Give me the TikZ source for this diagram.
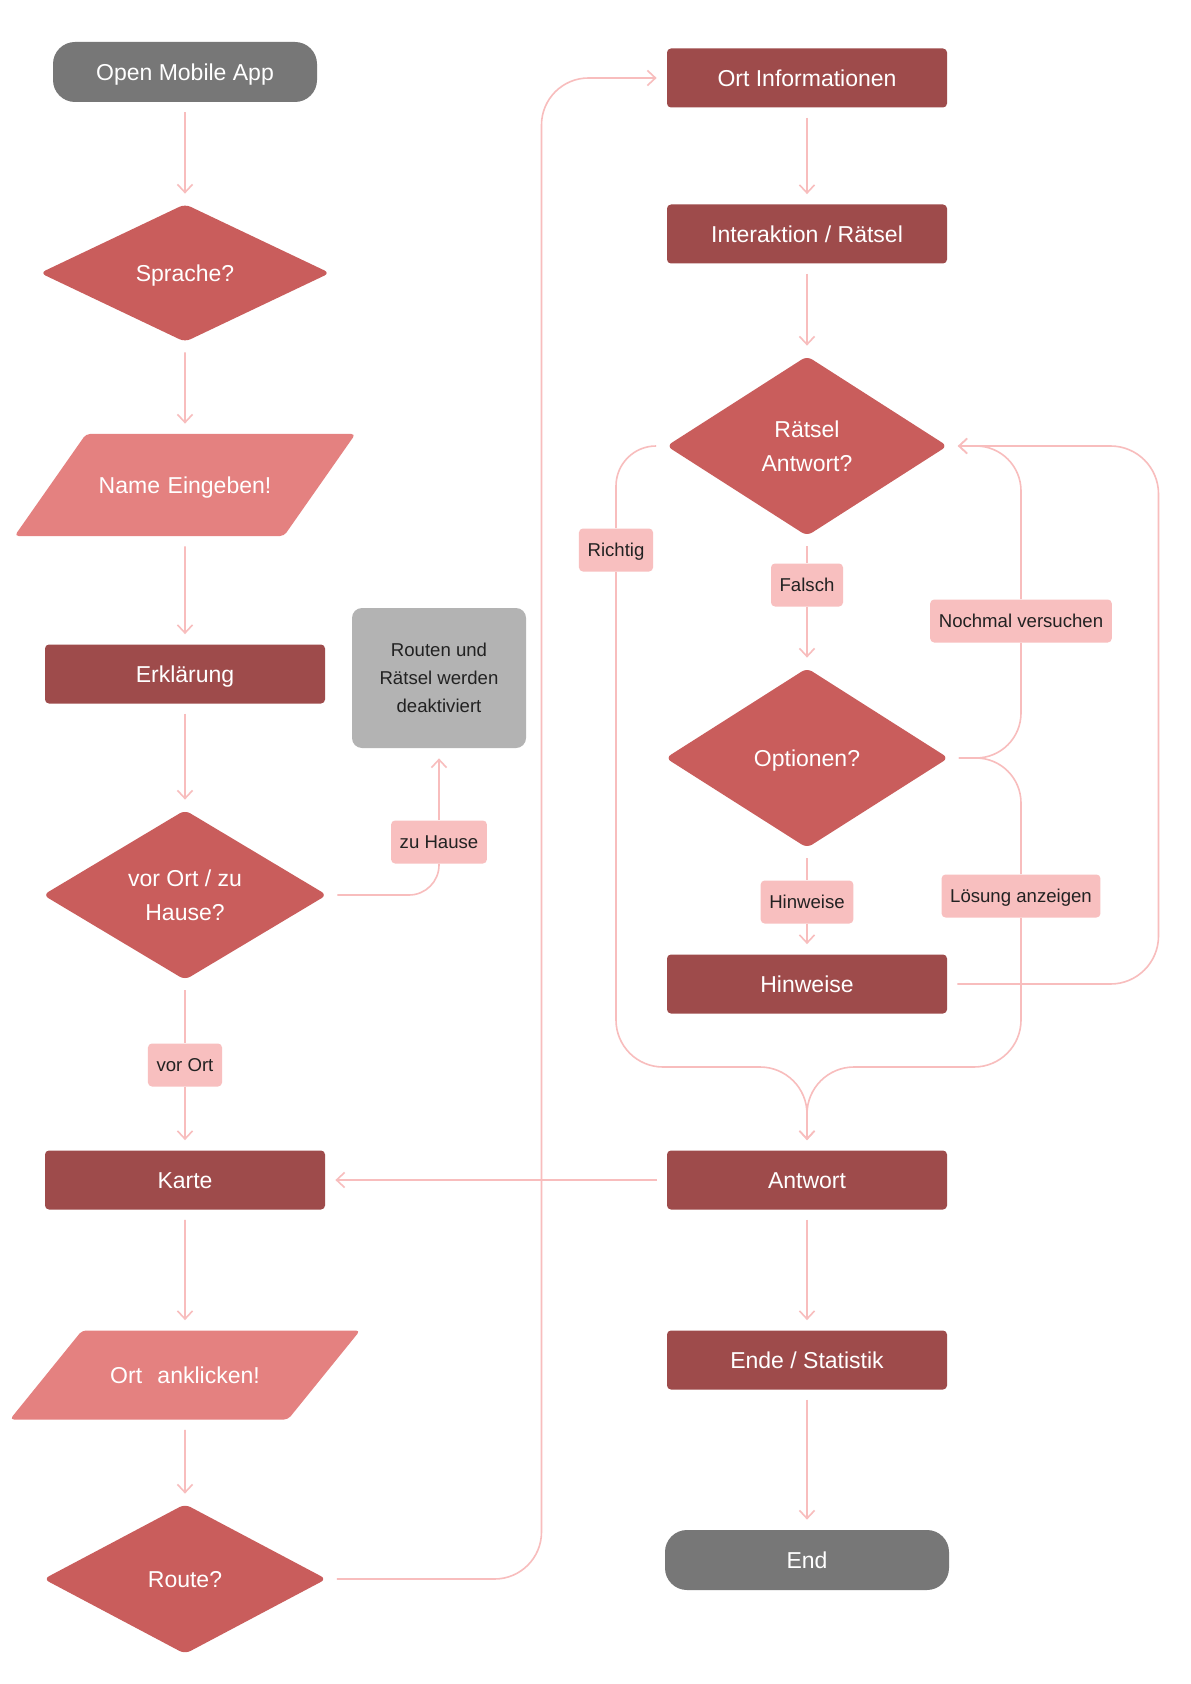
\documentclass[tikz,border=0pt]{standalone}
\usepackage{fontspec}
\setmainfont{Liberation Sans}
\usetikzlibrary{shapes.geometric,arrows.meta}
\definecolor{termgray}{HTML}{777777}
\definecolor{decred}{HTML}{C95D5C}
\definecolor{iored}{HTML}{E48180}
\definecolor{procred}{HTML}{9E4B4B}
\definecolor{labpink}{HTML}{F8BFBF}
\definecolor{offgray}{HTML}{B3B3B3}
\definecolor{linepink}{HTML}{F8BDBD}
\definecolor{labtext}{HTML}{222222}
\tikzset{
  nodetext/.style={inner sep=0pt, text=white, align=center, text height=8.2pt, text depth=0pt,
    font=\fontsize{11.5}{17}\selectfont},
  twolines/.style={text height=25.2pt},
  term/.style={nodetext, fill=termgray, rectangle, rounded corners=11pt, minimum width=132pt, minimum height=30pt},
  proc/.style={nodetext, fill=procred, rectangle, rounded corners=2pt, minimum width=140pt, minimum height=29.5pt},
  dec/.style={nodetext, fill=decred, diamond, aspect=1.6, rounded corners=3pt},
  io/.style={nodetext, fill=iored, trapezium, rounded corners=2pt},
  offbox/.style={fill=offgray, text=labtext, align=center, inner sep=0pt, rounded corners=5pt,
    text height=34.7pt, text depth=0pt, minimum width=87pt, minimum height=70pt,
    font=\fontsize{9.3}{14}\selectfont},
  lab/.style={fill=labpink, text=labtext, rounded corners=2pt, inner xsep=4.3pt, inner ysep=0pt,
    text height=6.7pt, text depth=0pt, minimum height=21.5pt, font=\fontsize{9.3}{14}\selectfont},
  link/.style={draw=linepink, line width=0.8pt, shorten <=5pt},
  flow/.style={link, -{Straight Barb[length=4pt,width=7.5pt]}, shorten >=5pt},
}
\begin{document}
\begin{tikzpicture}[x=0.5pt,y=-0.5pt]
  \fill[white] (0,0) rectangle (1190,1684);
  \node[term] (open) at (185,72) {Open Mobile App};
  \node[dec, minimum width=145pt, minimum height=69pt] (sprache) at (185,273) {Sprache?};
  \node[io, trapezium left angle=55, trapezium right angle=125, text width=99pt,
    inner ysep=21.4pt] (name) at (185,485) {Name Eingeben!};
  \node[proc] (erkl) at (185,674) {Erklärung};
  \node[dec, twolines, minimum width=142pt, minimum height=85pt] (ort) at (185,895) {vor Ort / zu\\Hause?};
  \node[offbox] (aus) at (439,678) {Routen und\\Rätsel werden\\deaktiviert};
  \node[lab] (zuhause) at (439,842) {zu Hause};
  \node[lab] (vorort) at (185,1065) {vor Ort};
  \node[proc] (karte) at (185,1180) {Karte};
  \node[io, trapezium left angle=51, trapezium right angle=129, text width=103pt,
    inner ysep=18.15pt] (klick) at (185,1375) {Ort~ anklicken!};
  \node[dec, minimum width=141.5pt, minimum height=75pt] (route) at (185,1579) {Route?};
  \node[proc] (info) at (807,78) {Ort Informationen};
  \node[proc] (inter) at (807,234) {Interaktion / Rätsel};
  \node[dec, twolines, minimum width=140.5pt, minimum height=90pt] (raetsel) at (807,446) {Rätsel\\Antwort?};
  \node[lab] (richtig) at (616,550) {Richtig};
  \node[lab] (falsch) at (807,585) {Falsch};
  \node[lab] (nochmal) at (1021,621) {Nochmal versuchen};
  \node[dec, minimum width=141.5pt, minimum height=90pt] (optionen) at (807,758) {Optionen?};
  \node[lab] (hinwlab) at (807,902) {Hinweise};
  \node[lab] (loesung) at (1021,896) {Lösung anzeigen};
  \node[proc] (hinweise) at (807,984) {Hinweise};
  \node[proc] (antwort) at (807,1180) {Antwort};
  \node[proc] (ende) at (807,1360) {Ende / Statistik};
  \node[term, minimum width=142pt] (stop) at (807,1560) {End};
  \coordinate (bus) at (541.5,800);
  \coordinate (loop) at (1158.5,700);
  \coordinate (merge) at (807,1067);
  \begin{scope}
    \draw[flow] (open) -- (sprache);
    \draw[flow] (sprache) -- (name.north);
    \draw[flow] (name.south) -- (erkl.north);
    \draw[flow] (erkl) -- (ort);
    \draw[link] (ort) -- (vorort);
    \draw[flow, shorten <=0pt] (vorort) -- (karte);
    \draw[link, rounded corners=15pt] (ort.east) -| (zuhause.south);
    \draw[flow, shorten <=0pt] (zuhause) -- (aus);
    \draw[flow] (karte.south) -- (klick.north);
    \draw[flow] (klick.south) -- (route.north);
    \draw[flow, rounded corners=23.5pt] (route.east) -| (bus) |- (info.west);
    \draw[flow] (info) -- (inter);
    \draw[flow] (inter) -- (raetsel);
    \draw[link] (raetsel) -- (falsch);
    \draw[flow, shorten <=0pt] (falsch) -- (optionen);
    \draw[link, rounded corners=20pt] (raetsel.west) -| (richtig.north);
    \draw[flow, shorten <=0pt, rounded corners=23.5pt] (richtig.south) |- (merge) -- (antwort.north);
    \draw[link, rounded corners=22.5pt] (optionen.east) -| (nochmal.south);
    \draw[flow, shorten <=0pt, rounded corners=22.5pt] (nochmal.north) |- (raetsel.east);
    \draw[link, rounded corners=22.5pt] (optionen.east) -| (loesung.north);
    \draw[flow, shorten <=0pt, rounded corners=23.5pt] (loesung.south) |- (merge) -- (antwort.north);
    \draw[link] (optionen) -- (hinwlab);
    \draw[flow, shorten <=0pt] (hinwlab) -- (hinweise);
    \draw[flow, rounded corners=24pt] (hinweise.east) -| (loop) |- (raetsel.east);
    \draw[flow] (antwort) -- (karte);
    \draw[flow] (antwort) -- (ende);
    \draw[flow] (ende) -- (stop);
  \end{scope}
\end{tikzpicture}
\end{document}
